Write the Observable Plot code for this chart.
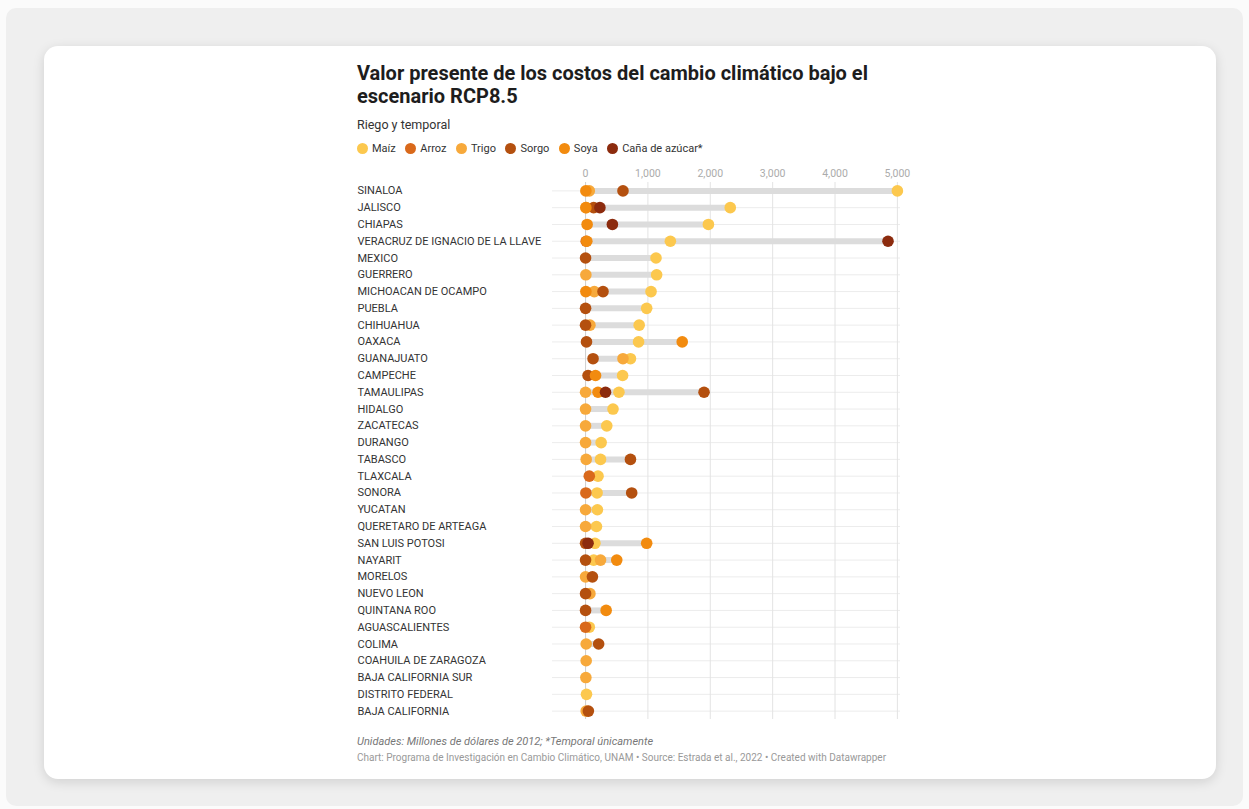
<!DOCTYPE html>
<html>
<head>
<meta charset="utf-8">
<script src="https://cdn.jsdelivr.net/npm/d3@7"></script>
<script src="https://cdn.jsdelivr.net/npm/@observablehq/plot@0.6"></script>
<style>
  html, body { margin: 0; padding: 0; }
  body { width: 1249px; height: 809px; background: #fbfbfb; position: relative; overflow: hidden; font-family: Roboto, "Noto Sans", sans-serif; }
  #outer { position: absolute; left: 6px; top: 8px; width: 1237px; height: 798px; background: #efefef; border-radius: 10px; }
  #card { position: absolute; left: 44px; top: 46px; width: 1172px; height: 733px; background: #fff; border-radius: 14px; box-shadow: 0 3px 12px rgba(0,0,0,0.13); }
  #content { position: absolute; left: 357px; top: 0; width: 580px; }
  #title { position: absolute; top: 62px; left: 0; font-size: 20px; font-weight: 700; line-height: 23px; color: #1d1d1d; white-space: nowrap; }
  #subtitle { position: absolute; top: 117px; left: 0; font-size: 12.5px; color: #333; }
  #legend { position: absolute; top: 142px; left: 0; display: flex; font-size: 11px; color: #333; white-space: nowrap; }
  .item { display: flex; align-items: center; margin-right: 9.5px; }
  .sw { width: 11px; height: 11px; border-radius: 50%; margin-right: 4px; display: inline-block; }
  #chart { position: absolute; top: 160px; left: 0; }
  #notes { position: absolute; top: 735px; left: 0; font-size: 11px; font-style: italic; color: #777; white-space: nowrap; }
  #credit { position: absolute; top: 752px; left: 0; font-size: 10px; color: #999; white-space: nowrap; }
</style>
</head>
<body>
<div id="outer"></div>
<div id="card"></div>
<div id="content">
  <div id="title">Valor presente de los costos del cambio climático bajo el<br>escenario RCP8.5</div>
  <div id="subtitle">Riego y temporal</div>
  <div id="legend"></div>
  <div id="chart"></div>
  <div id="notes">Unidades: Millones de dólares de 2012; *Temporal únicamente</div>
  <div id="credit">Chart: Programa de Investigación en Cambio Climático, UNAM • Source: Estrada et al., 2022 • Created with Datawrapper</div>
</div>
<script>
const states = [
  "SINALOA", "JALISCO", "CHIAPAS", "VERACRUZ DE IGNACIO DE LA LLAVE", "MEXICO",
  "GUERRERO", "MICHOACAN DE OCAMPO", "PUEBLA", "CHIHUAHUA", "OAXACA",
  "GUANAJUATO", "CAMPECHE", "TAMAULIPAS", "HIDALGO", "ZACATECAS",
  "DURANGO", "TABASCO", "TLAXCALA", "SONORA", "YUCATAN",
  "QUERETARO DE ARTEAGA", "SAN LUIS POTOSI", "NAYARIT", "MORELOS", "NUEVO LEON",
  "QUINTANA ROO", "AGUASCALIENTES", "COLIMA", "COAHUILA DE ZARAGOZA", "BAJA CALIFORNIA SUR",
  "DISTRITO FEDERAL", "BAJA CALIFORNIA"
];
const crops = ["Maíz", "Arroz", "Trigo", "Sorgo", "Soya", "Caña de azúcar*"];
const cropColors = ["#fcc84e", "#d9691b", "#f7a93b", "#b4500f", "#f28b0f", "#8c2b0e"];

// values in millions of 2012 USD, aligned with states (null = no value)
const maiz  = [5000, 2320, 1970, 1360, 1130, 1140, 1050, 980, 860, 850, 720, 594, 535, 440, 340, 250, 240, 200, 185, 190, 175, 150, 130, null, null, null, 60, null, null, null, 15, null];
const arroz = [null, null, null, 10, null, null, null, null, null, null, null, null, null, null, null, null, null, 60, 5, null, null, null, null, null, null, null, 0, null, null, null, null, null];
const trigo = [60, 10, null, null, null, 5, 140, null, 70, null, 600, null, 0, 0, 0, 0, 10, null, null, 0, 0, null, 240, 0, 70, null, null, 10, 10, 5, null, 10];
const sorgo = [600, 130, null, null, 0, null, 280, 0, 0, 15, 120, 40, 1900, null, null, null, 720, null, 740, null, null, 0, 0, 110, 0, 0, null, 210, null, null, null, 45];
const soya  = [5, 5, 25, 20, null, null, 5, null, null, 1550, null, 160, 200, null, null, null, null, null, null, null, null, 980, 500, null, null, 330, null, null, null, null, null, null];
const cana  = [null, 230, 430, 4850, null, null, null, null, null, null, null, null, 320, null, null, null, null, null, null, null, null, 40, null, null, null, null, null, null, null, null, null, null];
const xTicks = [0, 1000, 2000, 3000, 4000, 5000];

const series = [maiz, arroz, trigo, sorgo, soya, cana];
const points = [];
series.forEach((vals, ci) => {
  vals.forEach((v, si) => {
    if (v != null) points.push({state: states[si], crop: crops[ci], value: v});
  });
});
const ranges = states.map((s, si) => {
  const vs = series.map(a => a[si]).filter(v => v != null);
  return {state: s, min: d3.min(vs), max: d3.max(vs)};
});

// legend
const legend = document.getElementById("legend");
crops.forEach((c, i) => {
  const it = document.createElement("div");
  it.className = "item";
  it.innerHTML = `<span class="sw" style="background:${cropColors[i]}"></span>${c}`;
  legend.appendChild(it);
});

const chart = Plot.plot({
  width: 565,
  height: 564,
  marginLeft: 195,
  marginRight: 22,
  marginTop: 22,
  marginBottom: 5,
  style: {fontFamily: "Roboto, 'Noto Sans', sans-serif", background: "transparent", overflow: "visible"},
  x: {domain: [-530, 5050], axis: null},
  y: {type: "point", domain: states, axis: null, padding: 0.5, round: false},
  color: {domain: crops, range: cropColors},
  marks: [
    Plot.ruleY(states, {y: d => d, stroke: "#ececec", strokeWidth: 1}),
    Plot.gridX(xTicks, {stroke: "#e3e3e3", strokeOpacity: 1}),
    Plot.ruleX([0], {stroke: "#d0d0d0"}),
    Plot.axisX(xTicks, {anchor: "top", tickSize: 0, tickPadding: 6, tickFormat: d3.format(","), fill: "#ababab", fontSize: 10.5}),
    Plot.ruleY(ranges, {y: "state", x1: "min", x2: "max", stroke: "#dcdcdc", strokeWidth: 6}),
    Plot.dot(points, {x: "value", y: "state", fill: "crop", r: 5.8, stroke: null}),
    Plot.text(states, {y: d => d, text: d => d, frameAnchor: "left", dx: -195, textAnchor: "start", fill: "#333", fontSize: 11})
  ]
});
document.getElementById("chart").appendChild(chart);
</script>
</body>
</html>
